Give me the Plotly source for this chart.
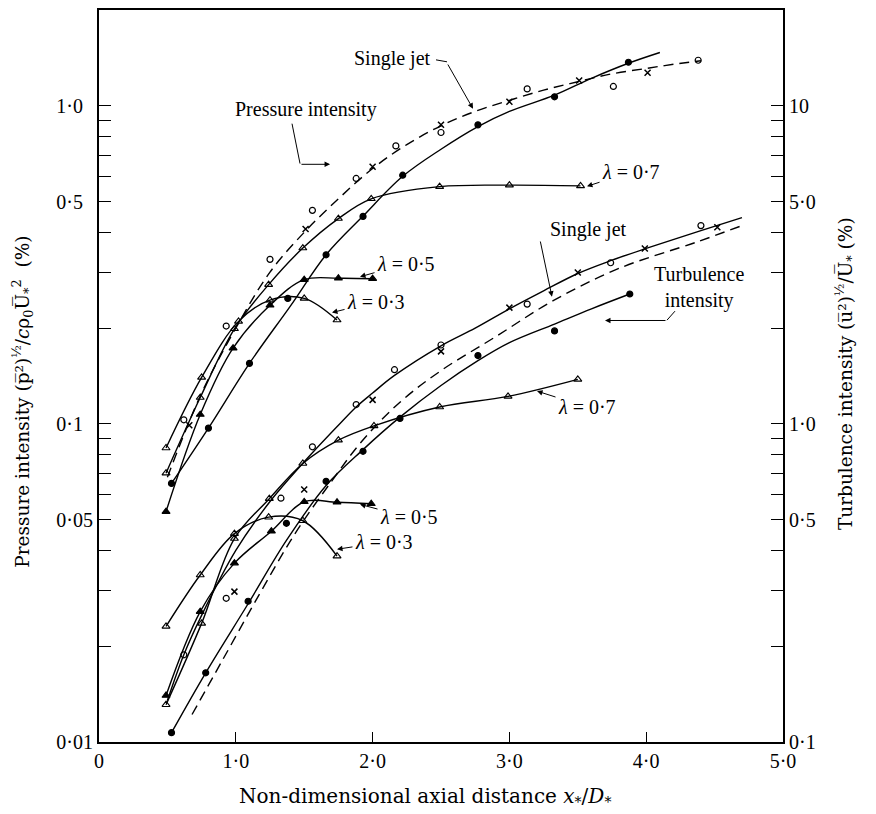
import numpy as np
import plotly.graph_objects as go

# ---------------- upper group: pressure intensity (left axis, %) ----------------
p_l03_x = [0.49, 0.75, 1.02, 1.25, 1.50, 1.74]
p_l03_y = [0.084, 0.140, 0.210, 0.245, 0.248, 0.212]
p_l05_x = [0.49, 0.74, 0.98, 1.25, 1.50, 1.75, 2.00]
p_l05_y = [0.053, 0.107, 0.173, 0.236, 0.284, 0.287, 0.286]
p_l07_x = [0.49, 0.74, 0.99, 1.24, 1.49, 1.75, 1.99, 2.49, 3.00, 3.52]
p_l07_y = [0.070, 0.121, 0.199, 0.274, 0.357, 0.442, 0.510, 0.557, 0.563, 0.560]
p_dot_x = [0.53, 0.80, 1.10, 1.38, 1.66, 1.93, 2.22, 2.77, 3.33, 3.87]
p_dot_y = [0.065, 0.097, 0.155, 0.248, 0.340, 0.449, 0.605, 0.871, 1.067, 1.37]
p_solid_x = [0.53, 0.80, 1.10, 1.40, 1.66, 1.93, 2.22, 2.50, 2.77, 3.00, 3.33, 3.60, 3.87, 4.10]
p_solid_y = [0.065, 0.097, 0.155, 0.235, 0.340, 0.450, 0.600, 0.730, 0.860, 0.960, 1.080, 1.220, 1.360, 1.470]
p_circ_x = [0.62, 0.93, 1.25, 1.56, 1.88, 2.17, 2.50, 3.13, 3.76, 4.38]
p_circ_y = [0.103, 0.203, 0.329, 0.469, 0.591, 0.748, 0.824, 1.13, 1.15, 1.39]
p_cross_x = [0.66, 1.51, 2.00, 2.50, 3.00, 3.51, 4.01]
p_cross_y = [0.099, 0.410, 0.643, 0.871, 1.03, 1.20, 1.27]
p_dash_x = [0.50, 0.75, 1.00, 1.25, 1.50, 1.75, 2.00, 2.25, 2.50, 2.75, 3.00, 3.25, 3.50, 3.75, 4.00, 4.20, 4.40]
p_dash_y = [0.068, 0.125, 0.200, 0.300, 0.400, 0.510, 0.635, 0.755, 0.865, 0.960, 1.040, 1.120, 1.190, 1.260, 1.310, 1.350, 1.385]

# ---------------- lower group: turbulence intensity (right axis, %) ----------------
t_l03_x = [0.49, 0.74, 0.99, 1.24, 1.49, 1.74]
t_l03_y = [0.231, 0.335, 0.452, 0.509, 0.496, 0.384]
t_l05_x = [0.49, 0.74, 0.99, 1.26, 1.50, 1.74, 1.99]
t_l05_y = [0.140, 0.257, 0.365, 0.460, 0.569, 0.567, 0.561]
t_l07_x = [0.49, 0.75, 0.99, 1.245, 1.49, 1.75, 2.01, 2.49, 2.99, 3.50]
t_l07_y = [0.131, 0.236, 0.436, 0.582, 0.751, 0.889, 0.986, 1.13, 1.22, 1.38]
t_dot_x = [0.53, 0.78, 1.09, 1.37, 1.66, 1.93, 2.20, 2.77, 3.33, 3.88]
t_dot_y = [0.107, 0.165, 0.277, 0.487, 0.66, 0.82, 1.04, 1.64, 1.96, 2.56]
t_dotline_x = [0.53, 0.78, 1.09, 1.37, 1.66, 1.93, 2.20, 2.50, 2.77, 3.00, 3.33, 3.60, 3.88]
t_dotline_y = [0.107, 0.165, 0.272, 0.43, 0.64, 0.83, 1.05, 1.32, 1.58, 1.80, 2.06, 2.30, 2.56]
t_circ_x = [0.62, 0.93, 1.33, 1.56, 1.88, 2.16, 2.50, 3.13, 3.74, 4.40]
t_circ_y = [0.188, 0.283, 0.584, 0.847, 1.15, 1.48, 1.77, 2.38, 3.21, 4.2]
t_cross_x = [0.99, 1.50, 2.00, 2.50, 3.00, 3.50, 3.99, 4.52]
t_cross_y = [0.297, 0.622, 1.19, 1.69, 2.32, 2.99, 3.56, 4.15]
t_top_x = [0.50, 0.62, 0.75, 1.00, 1.25, 1.50, 1.75, 1.88, 2.00, 2.16, 2.50, 2.75, 3.00, 3.25, 3.50, 3.75, 4.00, 4.40, 4.70]
t_top_y = [0.135, 0.188, 0.25, 0.40, 0.57, 0.76, 0.99, 1.13, 1.25, 1.42, 1.76, 2.00, 2.30, 2.62, 2.97, 3.27, 3.56, 4.05, 4.45]
t_dash_x = [0.68, 0.90, 1.17, 1.43, 1.70, 1.92, 2.20, 2.50, 2.90, 3.32, 3.80, 4.37, 4.70]
t_dash_y = [0.122, 0.18, 0.29, 0.45, 0.66, 0.88, 1.17, 1.47, 1.88, 2.44, 3.08, 3.73, 4.2]

# ---------------- axes ticks ----------------
x_ticks = [0, 1, 2, 3, 4, 5]
x_tick_text = ["0", "1·0", "2·0", "3·0", "4·0", "5·0"]
left_major = [0.01, 0.05, 0.1, 0.5, 1.0]
left_major_text = ["0·01", "0·05", "0·1\u2002", "0·5\u2002", "1·0\u2002"]
left_minor = [0.02, 0.03, 0.04, 0.06, 0.07, 0.08, 0.09, 0.2, 0.3, 0.4, 0.6, 0.7, 0.8, 0.9]
right_major = [0.1, 0.5, 1, 5, 10]
right_major_text = ["0·1", "0·5", "1·0", "5·0", "10"]
right_minor = [0.2, 0.3, 0.4, 0.6, 0.7, 0.8, 0.9, 2, 3, 4, 6, 7, 8, 9]

BLACK = "black"
SERIF = "Liberation Serif"
TITLE_FONT = "DejaVu Serif"

fig = go.Figure()


def line_trace(x, y, axis, dash="solid", width=1.4):
    fig.add_trace(go.Scatter(x=x, y=y, yaxis=axis, mode="lines",
                             line=dict(color=BLACK, width=width, dash=dash,
                                       shape="spline", smoothing=1.0),
                             showlegend=False, hoverinfo="skip"))


def marker_trace(x, y, axis, symbol, size=6, lw=1.2):
    fig.add_trace(go.Scatter(x=x, y=y, yaxis=axis, mode="markers",
                             marker=dict(symbol=symbol, size=size, color=BLACK,
                                         line=dict(color=BLACK, width=lw)),
                             showlegend=False, hoverinfo="skip"))


def lambda_trace(x, y, axis, symbol):
    fig.add_trace(go.Scatter(x=x, y=y, yaxis=axis, mode="lines+markers",
                             line=dict(color=BLACK, width=1.4, shape="spline", smoothing=1.0),
                             marker=dict(symbol=symbol, size=7, color=BLACK,
                                         line=dict(color=BLACK, width=1.1)),
                             showlegend=False, hoverinfo="skip"))


DASH = "10px,6px"

# upper group
line_trace(p_dash_x, p_dash_y, "y", dash=DASH)
line_trace(p_solid_x, p_solid_y, "y")
lambda_trace(p_l03_x, p_l03_y, "y", "triangle-up-open")
lambda_trace(p_l05_x, p_l05_y, "y", "triangle-up")
lambda_trace(p_l07_x, p_l07_y, "y", "triangle-up-open")
marker_trace(p_dot_x, p_dot_y, "y", "circle", size=6)
marker_trace(p_circ_x, p_circ_y, "y", "circle-open", size=6)
marker_trace(p_cross_x, p_cross_y, "y", "x-thin-open", size=6, lw=1.5)

# lower group
line_trace(t_dash_x, t_dash_y, "y2", dash=DASH)
line_trace(t_top_x, t_top_y, "y2")
line_trace(t_dotline_x, t_dotline_y, "y2")
lambda_trace(t_l03_x, t_l03_y, "y2", "triangle-up-open")
lambda_trace(t_l05_x, t_l05_y, "y2", "triangle-up")
lambda_trace(t_l07_x, t_l07_y, "y2", "triangle-up-open")
marker_trace(t_dot_x, t_dot_y, "y2", "circle", size=6)
marker_trace(t_circ_x, t_circ_y, "y2", "circle-open", size=6)
marker_trace(t_cross_x, t_cross_y, "y2", "x-thin-open", size=6, lw=1.5)

# ---------------- annotations (positions in data units, y as log10 of left-axis value) -------
ann_font = dict(family=SERIF, size=20, color=BLACK)
annotations = []
shapes = []


def text_ann(text, x, ly):
    annotations.append(dict(text=text, x=x, y=ly, xref="x", yref="y", showarrow=False,
                            font=ann_font, xanchor="center", yanchor="middle", align="center"))


def labelled_arrow(text, x_tip, ly_tip, x_txt, ly_txt):
    # text centred at (x_txt, ly_txt) with an arrow running from its box to the tip
    annotations.append(dict(text=text, x=x_tip, y=ly_tip, ax=x_txt, ay=ly_txt,
                            xref="x", yref="y", axref="x", ayref="y",
                            showarrow=True, arrowhead=2, arrowsize=1.1, arrowwidth=1,
                            arrowcolor=BLACK, standoff=0, startstandoff=1,
                            font=ann_font, align="center"))


def arrow_ann(x_tip, ly_tip, x_tail, ly_tail):
    annotations.append(dict(text="", x=x_tip, y=ly_tip, ax=x_tail, ay=ly_tail,
                            xref="x", yref="y", axref="x", ayref="y",
                            showarrow=True, arrowhead=2, arrowsize=1.1, arrowwidth=1,
                            arrowcolor=BLACK, standoff=0, startstandoff=0))


def leader(x0, y0, x1, y1):
    # leader-line segment in paper coordinates
    shapes.append(dict(type="line", xref="paper", yref="paper", x0=x0, y0=y0, x1=x1, y1=y1,
                       line=dict(color=BLACK, width=1)))


LAM = "<i>λ</i> = 0·"

text_ann("Single jet", 2.149, 0.150)
leader(0.4927, 0.9319, 0.5088, 0.9292)
arrow_ann(2.734, -0.0094, 2.544, 0.1344)

text_ann("Pressure intensity", 1.513, -0.0125)
leader(0.2822, 0.8447, 0.2939, 0.7902)
arrow_ann(1.689, -0.184, 1.469, -0.184)

labelled_arrow(LAM + "7", 3.567, -0.253, 3.889, -0.209)
labelled_arrow(LAM + "5", 1.908, -0.5375, 2.244, -0.497)
labelled_arrow(LAM + "3", 1.703, -0.650, 2.025, -0.616)

text_ann("Single jet", 3.575, -0.3875)
arrow_ann(3.311, -0.600, 3.224, -0.422)

text_ann("Turbulence<br>intensity", 4.386, -0.572)
leader(0.8421, 0.5886, 0.8304, 0.5763)
arrow_ann(3.699, -0.675, 4.152, -0.675)

labelled_arrow(LAM + "7", 3.202, -0.897, 3.567, -0.947)
labelled_arrow(LAM + "5", 1.908, -1.253, 2.266, -1.294)
labelled_arrow(LAM + "3", 1.740, -1.394, 2.083, -1.372)

# axis titles
annotations.append(dict(
    text="Pressure intensity (p\u0305²)<sup>½</sup>/<i>c</i>ρ<sub>0</sub>U\u0305<sub>*</sub><sup>2</sup>  (%)",
    x=-0.111, y=0.465, xref="paper", yref="paper", textangle=-90, showarrow=False,
    font=dict(family=TITLE_FONT, size=18.5, color=BLACK), xanchor="center", yanchor="middle"))
annotations.append(dict(
    text="Turbulence intensity (u\u0305²)<sup>½</sup>/U\u0305<sub>*</sub> (%)",
    x=1.0906, y=0.504, xref="paper", yref="paper", textangle=-90, showarrow=False,
    font=dict(family=TITLE_FONT, size=18.5, color=BLACK), xanchor="center", yanchor="middle"))
annotations.append(dict(
    text="Non-dimensional axial distance <i>x</i><sub>*</sub>/<i>D</i><sub>*</sub>",
    x=0.477, y=-0.075, xref="paper", yref="paper", showarrow=False,
    font=dict(family=TITLE_FONT, size=20, color=BLACK), xanchor="center", yanchor="middle"))

tick_font = dict(family=SERIF, size=20, color=BLACK)
minor_style = dict(ticks="inside", ticklen=12, tickwidth=1.3, tickcolor=BLACK, showgrid=False)

fig.update_layout(
    width=876, height=814, autosize=False,
    margin=dict(l=99, r=93, t=8, b=72),
    paper_bgcolor="white", plot_bgcolor="white",
    showlegend=False,
    annotations=annotations, shapes=shapes,
    xaxis=dict(range=[0, 5], tickvals=x_ticks, ticktext=x_tick_text,
               ticks="inside", ticklen=10, tickwidth=1.3, tickcolor=BLACK,
               showline=True, linecolor=BLACK, linewidth=2, mirror=True,
               showgrid=False, zeroline=False, tickfont=tick_font),
    yaxis=dict(type="log", range=[-2, np.log10(2.0)],
               tickvals=left_major, ticktext=left_major_text,
               ticks="inside", ticklen=12, tickwidth=1.3, tickcolor=BLACK,
               minor=dict(tickvals=left_minor, **minor_style),
               showline=True, linecolor=BLACK, linewidth=2,
               showgrid=False, zeroline=False, tickfont=tick_font),
    yaxis2=dict(type="log", range=[-1, np.log10(20.0)], overlaying="y", side="right",
                tickvals=right_major, ticktext=right_major_text,
                ticks="inside", ticklen=12, tickwidth=1.3, tickcolor=BLACK,
                minor=dict(tickvals=right_minor, **minor_style),
                showline=True, linecolor=BLACK, linewidth=2,
                showgrid=False, zeroline=False, tickfont=tick_font),
)

fig.write_html("out.html")
